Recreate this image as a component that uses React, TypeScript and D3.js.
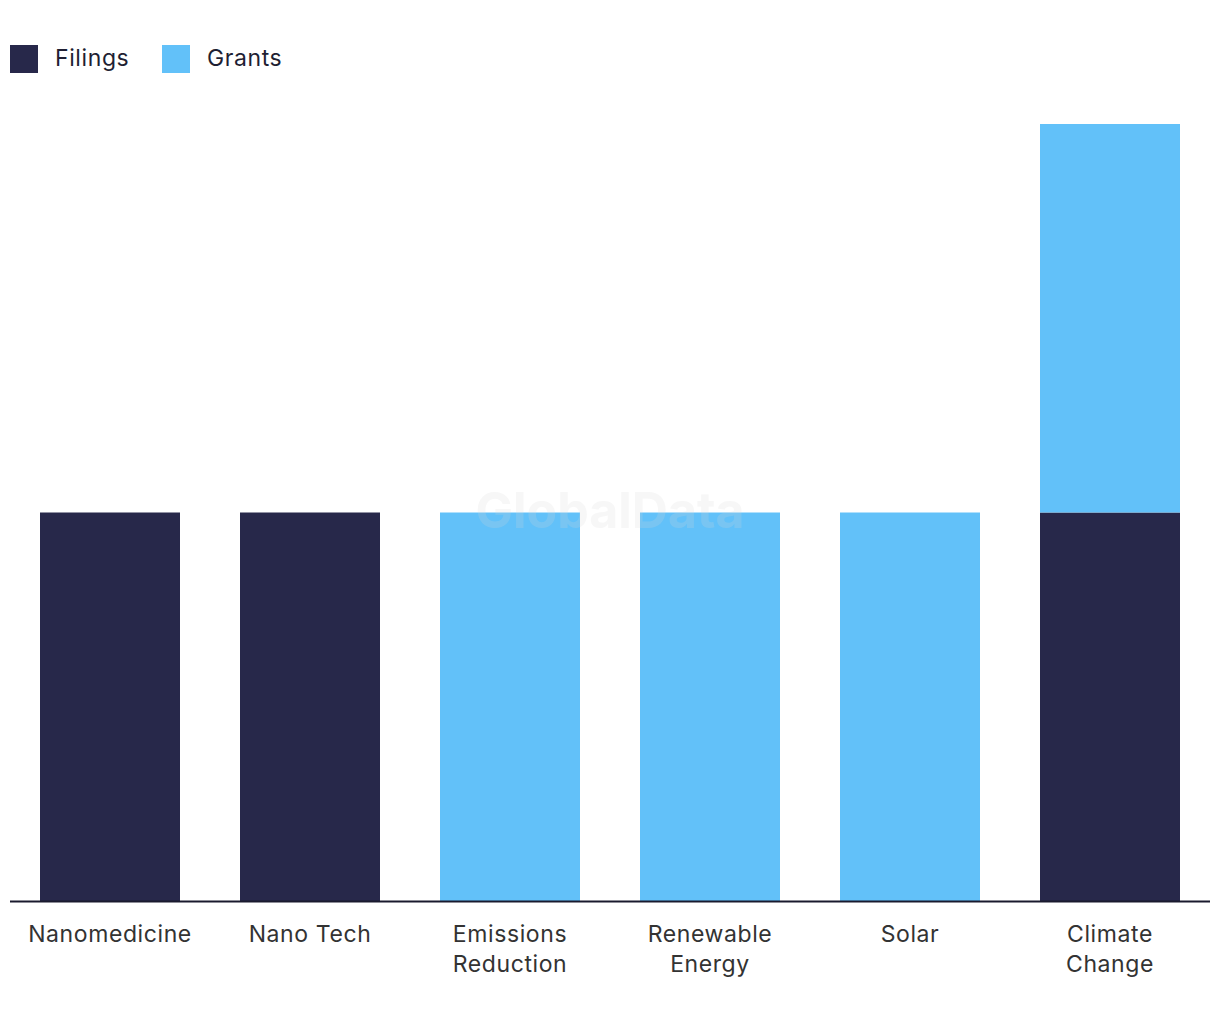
import React from "react";
import * as d3 from "d3";

const categories = ["Nanomedicine", "Nano Tech", "Emissions Reduction", "Renewable Energy", "Solar", "Climate Change"];
const categoryLines = [["Nanomedicine"], ["Nano Tech"], ["Emissions", "Reduction"], ["Renewable", "Energy"], ["Solar"], ["Climate", "Change"]];
const filings = [1, 1, 0, 0, 0, 1];
const grants = [0, 0, 1, 1, 1, 1];
const seriesNames = ["Filings", "Grants"];
const seriesColors = ["#27284a", "#62c1f9"];

const W = 1220;
const H = 1020;
const FONT = "Inter, 'Noto Sans', sans-serif";

export default function App() {
  const x = d3.scaleBand<string>().domain(categories).range([10, 1210]).paddingInner(0.3).paddingOuter(0.15);
  const y = d3.scaleLinear().domain([0, 2]).range([901, 124]);

  const rows = categories.map((c, i) => ({ cat: c, Filings: filings[i], Grants: grants[i] }));
  const stacked = d3.stack<any>().keys(seriesNames)(rows);

  return (
    <svg width={W} height={H} style={{ position: "absolute", left: 0, top: 0, background: "#fff" }}>
      {/* legend */}
      {seriesNames.map((s, i) => {
        const lx = i === 0 ? 10 : 162;
        return (
          <g key={s}>
            <rect x={lx} y={45} width={28} height={28} fill={seriesColors[i]} />
            <text x={lx + 45} y={66} fontFamily={FONT} fontSize={23} fill="#1f1f33" letterSpacing={0.6}>
              {s}
            </text>
          </g>
        );
      })}
      {/* bars */}
      {stacked.map((layer, si) => (
        <g key={layer.key} fill={seriesColors[si]}>
          {layer.map((d: any, i: number) =>
            d[1] - d[0] > 0 ? (
              <rect key={i} x={x(categories[i])} y={y(d[1])} width={x.bandwidth()} height={y(d[0]) - y(d[1])} />
            ) : null
          )}
        </g>
      ))}
      {/* watermark */}
      <text x={610} y={528} textAnchor="middle" fontFamily={FONT} fontWeight={700} fontSize={50} fill="#d8d8d8" opacity={0.2}>
        GlobalData
      </text>
      {/* axis */}
      <line x1={10} x2={1210} y1={901.5} y2={901.5} stroke="#1a1a2e" strokeWidth={2} />
      {categoryLines.map((lines, i) => (
        <text key={i} textAnchor="middle" fontFamily={FONT} fontSize={23} fill="#333" letterSpacing={0.6}>
          {lines.map((l, j) => (
            <tspan key={j} x={(x(categories[i]) as number) + x.bandwidth() / 2} y={942 + j * 30}>
              {l}
            </tspan>
          ))}
        </text>
      ))}
    </svg>
  );
}
